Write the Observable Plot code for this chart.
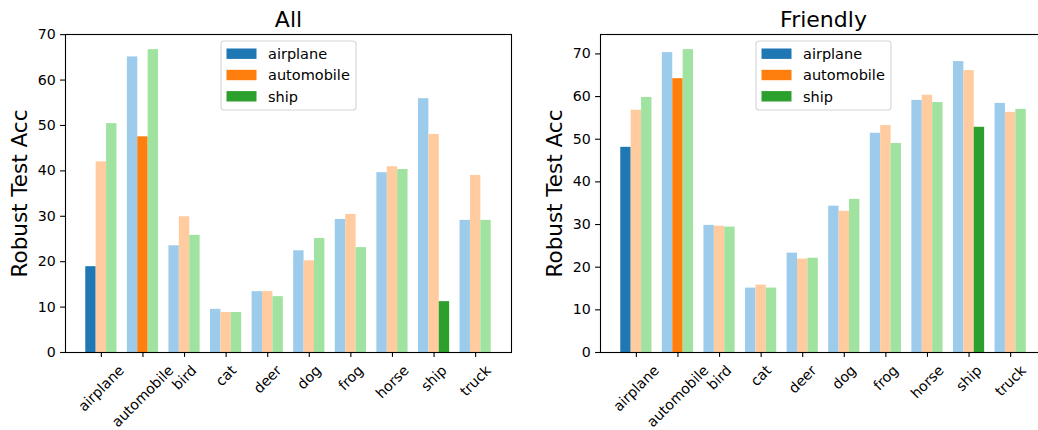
<!DOCTYPE html>
<html>
<head>
<meta charset="utf-8">
<script src="https://cdn.jsdelivr.net/npm/d3@7"></script>
<script src="https://cdn.jsdelivr.net/npm/@observablehq/plot@0.6"></script>
<style>
  html, body { margin: 0; padding: 0; background: #fff; }
  #root { position: relative; width: 1038px; height: 430px; overflow: hidden; font-family: "DejaVu Sans", sans-serif; }
  .panel { position: absolute; top: 0; }
  .legend { position: absolute; overflow: visible; }
</style>
</head>
<body>
<div id="root"></div>
<script>
// ---- data ----
const classes = ["airplane", "automobile", "bird", "cat", "deer", "dog", "frog", "horse", "ship", "truck"];
const series = ["airplane", "automobile", "ship"];
const allAirplane   = [18.9, 65.1, 23.5, 9.5, 13.4, 22.4, 29.3, 39.6, 55.9, 29.1];
const allAutomobile = [42.0, 47.5, 29.9, 8.8, 13.4, 20.2, 30.4, 40.9, 48.0, 39.0];
const allShip       = [50.4, 66.7, 25.8, 8.8, 12.3, 25.1, 23.1, 40.3, 11.2, 29.1];
const friendlyAirplane   = [48.1, 70.3, 29.8, 15.1, 23.3, 34.3, 51.4, 59.1, 68.2, 58.4];
const friendlyAutomobile = [56.8, 64.2, 29.6, 15.8, 21.9, 33.1, 53.2, 60.3, 66.1, 56.3];
const friendlyShip       = [59.8, 71.0, 29.4, 15.1, 22.1, 35.9, 49.0, 58.6, 52.8, 57.0];
const titles = ["All", "Friendly"];
const yLabel = "Robust Test Acc";
const yTicks = [0, 10, 20, 30, 40, 50, 60, 70];

// ---- styles ----
const fullColors  = ["#1f77b4", "#ff7f0e", "#2ca02c"];
const lightColors = ["#9ccbeb", "#ffcb9f", "#a0e3a0"];
const FONT = "DejaVu Sans";
const TICK_FS = 14.2;
const LEG_FS = 14.5;
const barW = 0.25;

const canvas = document.createElement("canvas");
const ctx = canvas.getContext("2d");
ctx.font = `${TICK_FS}px "${FONT}"`;

function makeRows(seriesValues) {
  const rows = [];
  classes.forEach((c, i) => {
    series.forEach((s, j) => {
      rows.push({cls: c, i, s, j, value: seriesValues[j][i],
                 color: c === s ? fullColors[j] : lightColors[j]});
    });
  });
  return rows;
}

function panel(seriesValues, title, left, width, marginLeft, marginRight) {
  const rows = makeRows(seriesValues);
  const ymax = d3.max(rows, d => d.value) * 1.05;
  const lo = -1.5 * barW, hi = classes.length - 1 + 1.5 * barW;
  const pad = (hi - lo) * 0.05;
  const marginTop = 34, marginBottom = 78;
  const labelTop = 4.9 + 4.9; // tick + pad
  const labelMarks = classes.map((c, i) => {
    const w = ctx.measureText(c).width;
    const h = TICK_FS * 1.16;
    const off = labelTop + (w + h) * Math.SQRT1_2 / 2;
    return Plot.text([c], {x: () => i, frameAnchor: "bottom", text: d => d, rotate: -45,
      textAnchor: "middle", lineAnchor: "middle", dy: off, fontSize: TICK_FS, fill: "black"});
  });
  const p = Plot.plot({
    width, height: 430,
    marginLeft, marginRight, marginTop, marginBottom,
    style: {fontFamily: FONT, fontSize: TICK_FS + "px", background: "transparent", overflow: "visible"},
    x: {domain: [lo - pad, hi + pad], axis: null},
    y: {domain: [0, ymax], axis: null},
    color: {type: "identity"},
    marks: [
      Plot.rectY(rows, {x1: d => d.i + (d.j - 1) * barW - barW / 2, x2: d => d.i + (d.j - 1) * barW + barW / 2,
        y1: 0, y2: "value", fill: "color"}),
      Plot.axisY({ticks: yTicks, tickSize: 4.9, tickPadding: 4.9, label: null, fontSize: TICK_FS, stroke: "black", strokeWidth: 1.1, fill: "black"}),
      Plot.axisX({ticks: d3.range(classes.length), tickSize: 4.9, tickFormat: () => "", label: null, stroke: "black", strokeWidth: 1.1}),
      ...labelMarks,
      Plot.frame({stroke: "black", strokeWidth: 1.1}),
      Plot.text([title], {frameAnchor: "top", text: d => d, lineAnchor: "bottom", dy: -8, fontSize: 22, fill: "black"}),
      Plot.text([yLabel], {frameAnchor: "left", text: d => d, rotate: -90, textAnchor: "middle", lineAnchor: "middle", dx: -45, fontSize: 21.5, fill: "black"})
    ]
  });
  p.classList.add("panel");
  p.style.left = left + "px";
  document.getElementById("root").appendChild(p);

  // legend (upper center of the axes), drawn as SVG
  const frameL = left + marginLeft, frameR = left + width - marginRight;
  const lw = 135, lh = 69;
  const lx = (frameL + frameR) / 2 - lw / 2;
  const svg = d3.select("#root").append("svg")
    .attr("class", "legend")
    .attr("width", lw + 2).attr("height", lh + 2)
    .style("left", (lx - 1) + "px").style("top", "40px");
  svg.append("rect").attr("x", 1).attr("y", 1).attr("width", lw).attr("height", lh)
    .attr("rx", 3).attr("fill", "white").attr("fill-opacity", 0.8)
    .attr("stroke", "#d5d5d5").attr("stroke-width", 1.1);
  series.forEach((s, j) => {
    const cy = 1 + 12.7 + j * 21.3;
    svg.append("rect").attr("x", 1 + 5.5).attr("y", cy - 5.2).attr("width", 30).attr("height", 10.4)
      .attr("fill", fullColors[j]);
    svg.append("text").attr("x", 1 + 47).attr("y", cy + 5.2)
      .attr("font-family", FONT).attr("font-size", LEG_FS).attr("fill", "black").text(s);
  });
}

panel([allAirplane, allAutomobile, allShip], titles[0], 0, 520, 65, 9);
panel([friendlyAirplane, friendlyAutomobile, friendlyShip], titles[1], 520, 540, 80, 14);
</script>
</body>
</html>
